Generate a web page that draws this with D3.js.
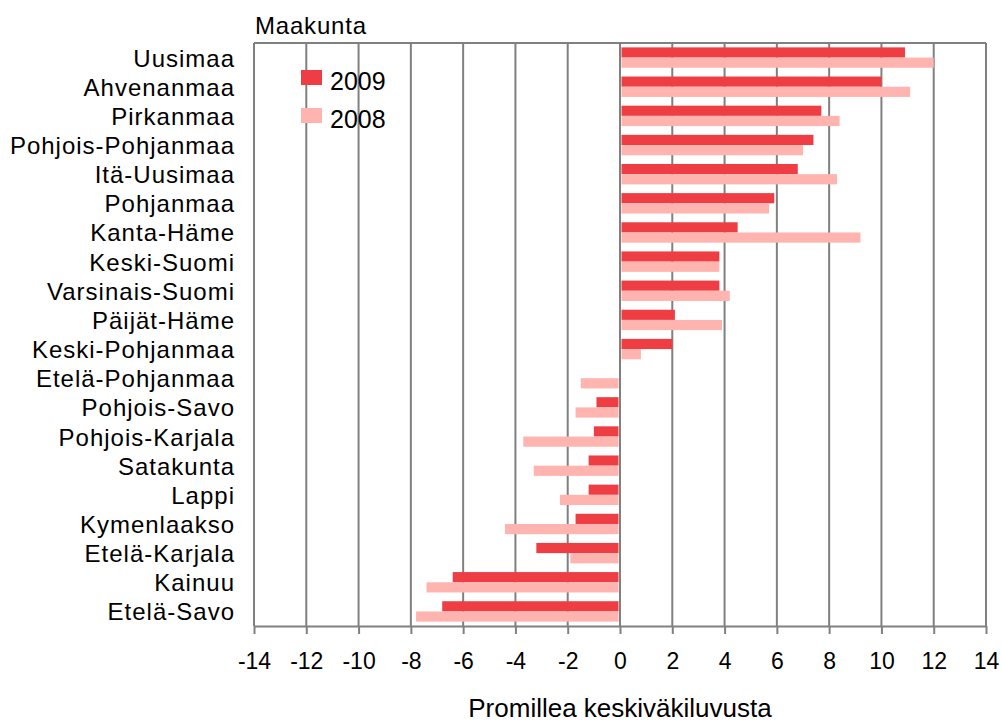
<!DOCTYPE html>
<html>
<head>
<meta charset="utf-8">
<script src="https://cdn.jsdelivr.net/npm/d3@7"></script>
<style>
  body { margin: 0; background: #fff; }
  svg { display: block; font-family: "Liberation Sans", Arial, sans-serif; }
  .grid line { stroke: #808080; stroke-width: 2; }
  .cat-label { font-size: 24px; letter-spacing: 1px; fill: #000; }
  .tick-label { font-size: 23px; fill: #000; }
</style>
</head>
<body>
<div id="chart"></div>
<script>
const regions = [
  "Uusimaa", "Ahvenanmaa", "Pirkanmaa", "Pohjois-Pohjanmaa", "Itä-Uusimaa",
  "Pohjanmaa", "Kanta-Häme", "Keski-Suomi", "Varsinais-Suomi", "Päijät-Häme",
  "Keski-Pohjanmaa", "Etelä-Pohjanmaa", "Pohjois-Savo", "Pohjois-Karjala",
  "Satakunta", "Lappi", "Kymenlaakso", "Etelä-Karjala", "Kainuu", "Etelä-Savo"
];
const values2009 = [
  10.9, 10.0, 7.7, 7.4, 6.8, 5.9, 4.5, 3.8, 3.8, 2.1,
  2.0, 0, -0.9, -1.0, -1.2, -1.2, -1.7, -3.2, -6.4, -6.8
];
const values2008 = [
  12.0, 11.1, 8.4, 7.0, 8.3, 5.7, 9.2, 3.8, 4.2, 3.9,
  0.8, -1.5, -1.7, -3.7, -3.3, -2.3, -4.4, -1.9, -7.4, -7.8
];
const seriesKeys = ["2009", "2008"];
const seriesColors = ["#ef3e43", "#ffb4af"];
const xTicks = d3.range(-14, 15, 2);

const width = 1002;
const height = 723;
const margin = { top: 43, right: 16, bottom: 97, left: 254 };

const rows = regions.map((name, i) => ({
  name,
  "2009": values2009[i],
  "2008": values2008[i],
}));

const svg = d3.select("#chart").append("svg")
  .attr("width", width)
  .attr("height", height);

const x = d3.scaleLinear()
  .domain([-14, 14])
  .range([margin.left, width - margin.right]);

const y = d3.scaleBand()
  .domain(regions)
  .range([margin.top, height - margin.bottom])
  .paddingInner(0.3)
  .paddingOuter(0.15);

const ySub = d3.scaleBand()
  .domain(seriesKeys)
  .range([0, y.bandwidth()]);

const color = d3.scaleOrdinal(seriesKeys, seriesColors);

// vertical gridlines
svg.append("g")
  .attr("class", "grid")
  .selectAll("line")
  .data(xTicks)
  .join("line")
  .attr("x1", (d) => x(d))
  .attr("x2", (d) => x(d))
  .attr("y1", margin.top)
  .attr("y2", height - margin.bottom)
  .attr("stroke-width", (d) => (d === 0 ? 3 : 2));

// frame top
svg.append("line")
  .attr("x1", margin.left)
  .attr("x2", width - margin.right)
  .attr("y1", margin.top)
  .attr("y2", margin.top)
  .attr("stroke", "#808080")
  .attr("stroke-width", 2);

// bars
const groups = svg.append("g")
  .selectAll("g")
  .data(rows)
  .join("g")
  .attr("transform", (d) => `translate(0,${y(d.name)})`);

groups.selectAll("rect")
  .data((d) => seriesKeys.map((key) => ({ key, value: d[key] })))
  .join("rect")
  .attr("x", (d) => (d.value >= 0 ? x(0) + 1.5 : x(d.value)))
  .attr("width", (d) => Math.max(0, Math.abs(x(d.value) - x(0)) - 1.5))
  .attr("y", (d) => ySub(d.key))
  .attr("height", ySub.bandwidth())
  .attr("fill", (d) => color(d.key));

// x axis
const axisX = svg.append("g")
  .attr("transform", `translate(0,${height - margin.bottom})`)
  .call(
    d3.axisBottom(x)
      .tickValues(xTicks)
      .tickFormat((d) => String(d))
      .tickSize(8)
      .tickSizeOuter(0)
      .tickPadding(0)
  );

axisX.select(".domain").attr("stroke", "#808080").attr("stroke-width", 2);
axisX.selectAll(".tick line").attr("stroke", "#808080").attr("stroke-width", 2);
axisX.selectAll(".tick text")
  .attr("class", "tick-label")
  .attr("font-family", null)
  .attr("font-size", null)
  .attr("dy", null)
  .attr("y", 43);

// category labels
svg.append("g")
  .selectAll("text")
  .data(regions)
  .join("text")
  .attr("class", "cat-label")
  .attr("text-anchor", "end")
  .attr("x", 235)
  .attr("y", (d) => y(d) + y.bandwidth() / 2 + 9)
  .text((d) => d);

// axis titles
svg.append("text")
  .attr("x", 255)
  .attr("y", 34)
  .attr("font-size", 24)
  .attr("letter-spacing", 0.8)
  .text("Maakunta");

svg.append("text")
  .attr("x", (x(-14) + x(14)) / 2)
  .attr("y", 717)
  .attr("text-anchor", "middle")
  .attr("font-size", 26)
  .text("Promillea keskiväkiluvusta");

// legend
const legend = svg.append("g")
  .selectAll("g")
  .data(seriesKeys)
  .join("g")
  .attr("transform", (d, i) => `translate(301,${70 + i * 38})`);

legend.append("rect")
  .attr("width", 21)
  .attr("height", 15)
  .attr("fill", (d) => color(d));

legend.append("text")
  .attr("x", 29)
  .attr("y", 20)
  .attr("font-size", 25)
  .text((d) => d);
</script>
</body>
</html>
